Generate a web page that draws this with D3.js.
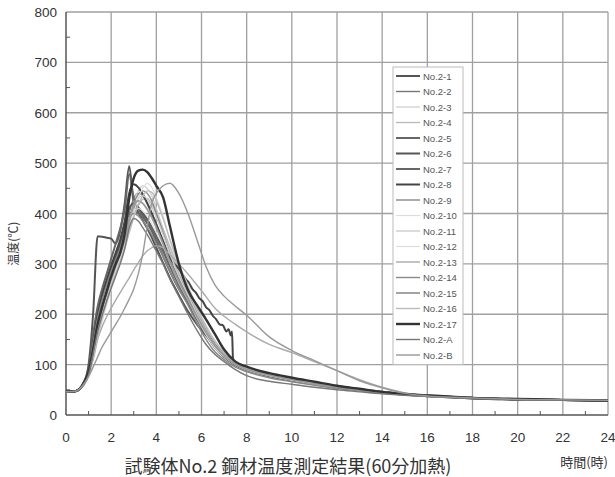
<!DOCTYPE html>
<html>
<head>
<meta charset="utf-8">
<script src="https://cdn.jsdelivr.net/npm/d3@7"></script>
<style>
  body { margin: 0; background: #fff; }
  svg { display: block; }
</style>
</head>
<body>
<div id="chart"></div>
<script>
// shared time grid (hours)
const hours = [0, 0.4, 0.8, 1.0, 1.2, 1.4, 1.6, 1.8, 2.0, 2.2, 2.4, 2.6, 2.8, 3.0, 3.2, 3.4, 3.6, 3.8, 4.0, 4.3,
    4.6, 5.0, 5.4, 5.8, 6.2, 6.6, 7.0, 7.5, 8, 9, 10, 11, 12, 13, 14, 15, 16, 18, 20, 22, 24];
// finer grid for the noisy thermocouple (No.2-8)
const hoursN = [0, 0.4, 0.8, 1.0, 1.2, 1.4, 1.6, 1.8, 2.0, 2.2, 2.4, 2.6, 2.8, 3.0, 3.2, 3.4, 3.6, 3.8, 4.0, 4.3,
    4.6, 5.0, 5.15, 5.3, 5.45, 5.6, 5.75, 5.9, 6.05, 6.2, 6.35, 6.5, 6.65, 6.8, 6.95, 7.1, 7.2, 7.3, 7.35, 7.4,
    7.5, 8, 9, 10, 11, 12, 13, 14, 15, 16, 18, 20, 22, 24];

const s1 = [46,47,66,100,200,355,354,352,350,340,365,420,494,420,402,386,370,352,332,302,272,238,206,180,158,138,120,104,94,81,72,64,57,51,45,41,38,34,31,30,29];
const s2 = [46,47,65,88,150,200,235,262,288,310,330,355,400,430,440,435,420,400,380,345,310,270,235,200,168,140,122,104,94,81,72,64,57,51,46,42,39,34,31,30,29];
const s3 = [46,47,62,82,125,170,210,245,275,300,325,350,390,425,445,455,450,435,410,370,330,285,245,205,170,140,120,102,92,79,70,62,56,50,45,41,38,34,31,30,29];
const s4 = [46,47,60,78,115,160,195,225,255,280,305,330,365,395,415,428,430,418,400,368,335,290,250,210,175,145,124,105,95,82,73,65,58,52,46,42,39,34,32,30,29];
const s5 = [46,47,66,92,160,215,250,280,310,340,370,410,478,430,410,395,380,365,345,315,285,250,222,190,162,135,118,100,90,78,69,61,55,49,44,40,37,33,31,30,29];
const s6 = [46,47,64,86,145,195,232,262,290,315,340,375,410,420,412,400,388,372,355,330,300,262,230,195,165,138,120,103,93,80,71,63,56,50,45,41,38,34,31,30,29];
const s7 = [46,47,63,84,140,190,228,258,285,308,330,365,395,405,400,392,382,370,352,325,295,258,225,190,160,133,115,99,89,77,68,61,54,49,44,40,37,33,31,30,29];
const s8 = [46,47,65,88,140,198,238,268,296,322,348,385,440,458,452,438,420,400,378,345,312,
    290,280,270,262,250,243,232,226,214,208,197,190,180,178,166,170,158,166,106,
    100,92,80,72,64,57,51,46,42,38,34,31,30,29];
const s9 = [46,47,62,80,120,165,205,238,268,295,320,348,385,420,438,445,440,425,400,362,322,278,240,202,168,140,121,103,93,80,71,63,57,51,45,41,38,34,31,30,29];
const s10 = [46,47,60,76,108,148,185,218,248,275,300,330,365,400,430,450,460,452,432,395,350,300,258,215,178,148,126,107,96,83,74,65,58,52,46,42,39,34,32,30,29];
const s11 = [46,47,61,79,118,162,200,232,262,290,315,342,380,412,430,435,428,412,392,358,320,276,238,200,166,138,119,102,92,79,70,62,56,50,45,41,38,34,31,30,29];
const s12 = [46,47,63,84,138,188,225,255,282,305,328,358,392,405,410,405,395,380,362,335,302,262,228,192,160,133,116,100,90,78,69,61,55,49,44,40,37,33,31,30,29];
const s13 = [46,47,63,80,110,150,175,195,212,228,243,258,272,288,302,316,326,332,336,332,318,300,280,258,235,212,196,180,165,140,124,106,88,70,55,44,39,34,31,30,29];
const s14 = [46,47,64,86,142,192,228,258,285,308,330,362,390,400,395,385,372,358,340,315,285,250,218,182,150,125,110,95,86,74,66,59,53,48,43,40,37,33,31,30,29];
const s15 = [46,47,62,82,128,175,212,242,270,296,320,348,385,415,425,420,408,392,372,340,305,265,230,195,164,137,118,101,91,79,70,62,56,50,45,41,38,34,31,30,29];
const s16 = [46,47,60,77,112,155,192,224,254,280,305,332,362,392,418,435,445,442,425,390,348,298,255,212,176,146,124,106,95,82,73,65,58,52,46,42,39,34,32,30,29];
const s17 = [46,47,64,85,130,180,215,245,275,300,322,360,430,470,485,487,482,470,455,432,375,300,248,218,190,160,130,106,96,83,74,66,58,52,46,42,39,34,32,30,29];
const sA = [46,47,62,80,122,165,198,226,252,276,300,330,372,390,385,372,358,342,325,300,270,235,200,168,140,120,106,90,78,67,61,55,50,46,42,39,37,33,31,30,29];
const sB = [46,47,62,76,95,115,135,150,165,180,195,212,230,250,280,320,375,420,440,455,460,440,400,348,295,258,236,216,198,155,128,108,88,68,54,43,38,34,31,30,29];

const seriesNames = ["No.2-1","No.2-2","No.2-3","No.2-4","No.2-5","No.2-6","No.2-7","No.2-8","No.2-9","No.2-10",
    "No.2-11","No.2-12","No.2-13","No.2-14","No.2-15","No.2-16","No.2-17","No.2-A","No.2-B"];
const seriesValues = [s1,s2,s3,s4,s5,s6,s7,s8,s9,s10,s11,s12,s13,s14,s15,s16,s17,sA,sB];

const xTicks = [0,2,4,6,8,10,12,14,16,18,20,22,24];
const yTicks = [0,100,200,300,400,500,600,700,800];

// line styles (grey shades as in the print)
const lineColors = ["#555","#777","#ccc","#bbb","#666","#555","#666","#444","#888","#ddd",
    "#ccc","#ddd","#aaa","#888","#999","#bbb","#333","#777","#999"];
const lineWidths = [2,1.4,1.2,1.4,2,2,2,2,1.4,1.2,1.4,1.2,1.4,1.4,1.8,1.4,2.4,1.4,1.4];

const width = 615, height = 477;
const margin = { top: 12, right: 7, bottom: 62, left: 66 };

const svg = d3.select("#chart")
    .append("svg")
    .attr("width", width)
    .attr("height", height);

const x = d3.scaleLinear().domain([0, 24]).range([margin.left, width - margin.right]);
const y = d3.scaleLinear().domain([0, 800]).range([height - margin.bottom, margin.top]);

const gridColor = "#a0a0a0";

// grid
svg.append("g")
    .selectAll("line")
    .data(xTicks.slice(1))
    .join("line")
    .attr("x1", d => x(d)).attr("x2", d => x(d))
    .attr("y1", y(0)).attr("y2", y(800))
    .attr("stroke", gridColor)
    .attr("stroke-width", 1.3);

svg.append("g")
    .selectAll("line")
    .data(yTicks.slice(1))
    .join("line")
    .attr("x1", x(0)).attr("x2", x(24))
    .attr("y1", d => y(d)).attr("y2", d => y(d))
    .attr("stroke", gridColor)
    .attr("stroke-width", 1.3);

// minor ticks
svg.append("g")
    .selectAll("line")
    .data(d3.range(1, 24, 2))
    .join("line")
    .attr("x1", d => x(d)).attr("x2", d => x(d))
    .attr("y1", y(0)).attr("y2", y(0) - 4)
    .attr("stroke", "#555");

svg.append("g")
    .selectAll("line")
    .data(d3.range(50, 800, 100))
    .join("line")
    .attr("x1", x(0)).attr("x2", x(0) + 4)
    .attr("y1", d => y(d)).attr("y2", d => y(d))
    .attr("stroke", "#555");

// axes lines
svg.append("line")
    .attr("x1", x(0)).attr("x2", x(0))
    .attr("y1", y(0)).attr("y2", y(800))
    .attr("stroke", "#555").attr("stroke-width", 1.5);
svg.append("line")
    .attr("x1", x(0)).attr("x2", x(24))
    .attr("y1", y(0)).attr("y2", y(0))
    .attr("stroke", "#555").attr("stroke-width", 1.5);

// tick labels
const tickFont = "'Liberation Sans', Arial, sans-serif";
svg.append("g")
    .selectAll("text")
    .data(yTicks)
    .join("text")
    .attr("x", x(0) - 9)
    .attr("y", d => y(d) + 5)
    .attr("text-anchor", "end")
    .attr("font-family", tickFont)
    .attr("font-size", 13.5)
    .attr("fill", "#333")
    .text(d => d);

svg.append("g")
    .selectAll("text")
    .data(xTicks)
    .join("text")
    .attr("x", d => x(d))
    .attr("y", y(0) + 27)
    .attr("text-anchor", "middle")
    .attr("font-family", tickFont)
    .attr("font-size", 13.5)
    .attr("fill", "#333")
    .text(d => d);

// series
const line = d3.line()
    .x(d => x(d[0]))
    .y(d => y(d[1]))
    .curve(d3.curveMonotoneX);

seriesValues.forEach((vals, i) => {
    const t = vals === s8 ? hoursN : hours;
    const pts = t.map((h, j) => [h, vals[j]]).filter(p => p[1] != null);
    svg.append("path")
        .datum(pts)
        .attr("d", line)
        .attr("fill", "none")
        .attr("stroke", lineColors[i])
        .attr("stroke-width", lineWidths[i])
        .attr("stroke-linejoin", "round");
});

// legend
const legend = svg.append("g").attr("transform", "translate(393,67)");
const rowH = 15.5;
legend.append("rect")
    .attr("x", 0).attr("y", 0)
    .attr("width", 70)
    .attr("height", rowH * seriesNames.length + 3)
    .attr("fill", "#fff")
    .attr("stroke", "#bbb");

seriesNames.forEach((name, i) => {
    const ly = 9 + i * rowH;
    legend.append("line")
        .attr("x1", 3).attr("x2", 27)
        .attr("y1", ly).attr("y2", ly)
        .attr("stroke", lineColors[i])
        .attr("stroke-width", lineWidths[i]);
    legend.append("text")
        .attr("x", 30)
        .attr("y", ly + 3.5)
        .attr("font-family", tickFont)
        .attr("font-size", 9.5)
        .attr("fill", "#555")
        .text(name);
});

// axis titles
const jpFont = "'Noto Sans CJK JP', sans-serif";
svg.append("text")
    .attr("transform", `translate(18, ${y(340)}) rotate(-90)`)
    .attr("text-anchor", "middle")
    .attr("font-family", jpFont)
    .attr("font-size", 12)
    .attr("fill", "#333")
    .text("温度(℃)");

svg.append("text")
    .attr("x", 288)
    .attr("y", 473)
    .attr("text-anchor", "middle")
    .attr("font-family", jpFont)
    .attr("font-size", 18)
    .attr("fill", "#333")
    .text("試験体No.2 鋼材温度測定結果(60分加熱)");

svg.append("text")
    .attr("x", x(24))
    .attr("y", 467)
    .attr("text-anchor", "end")
    .attr("font-family", jpFont)
    .attr("font-size", 13)
    .attr("fill", "#333")
    .text("時間(時)");
</script>
</body>
</html>
